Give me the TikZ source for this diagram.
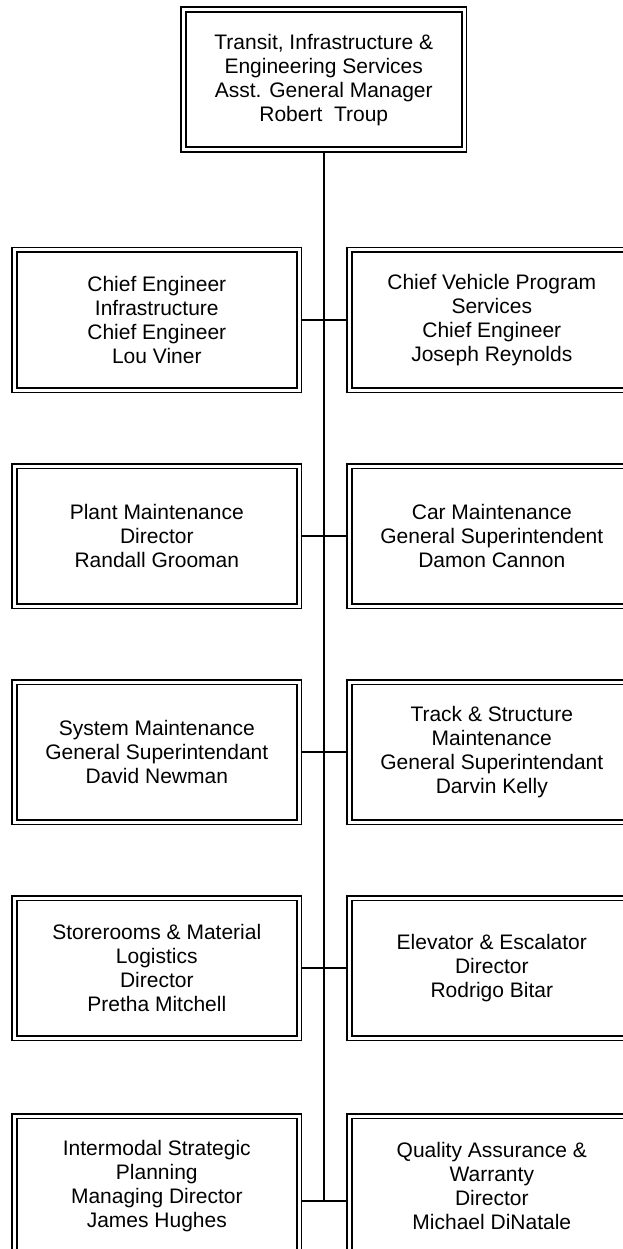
\documentclass[tikz,border=0pt]{standalone}
\usepackage{fontspec}
\setmainfont{Liberation Sans}
\usetikzlibrary{backgrounds}

\begin{document}
\begin{tikzpicture}[x=1pt,y=-1pt,
  orgbox/.style={draw=black, double=white, line width=1.6pt, double distance=3pt,
    fill=white, minimum width=284.5pt, minimum height=140pt, align=center,
    inner sep=0pt, font=\fontsize{21}{24}\selectfont},
  link/.style={draw=black, line width=1.5pt}]
  \useasboundingbox (0,0) rectangle (623,1249);
  \clip (0,0) rectangle (623,1249);

  % head of the division
  \node[orgbox, minimum width=280.5pt] (top) at (323.75,79.6)
    {Transit, Infrastructure \&\\Engineering Services\\Asst. General Manager\\Robert~ Troup};

  % left column
  \node[orgbox] (l1) at (156.8,320)
    {Chief Engineer\\Infrastructure\\Chief Engineer\\Lou Viner};
  \node[orgbox] (l2) at (156.8,536)
    {Plant Maintenance\\Director\\Randall Grooman};
  \node[orgbox] (l3) at (156.8,752)
    {System Maintenance\\General Superintendant\\David Newman};
  \node[orgbox] (l4) at (156.8,968)
    {Storerooms \& Material\\Logistics\\Director\\Pretha Mitchell};
  \node[orgbox] (l5) at (156.8,1186)
    {Intermodal Strategic\\Planning\\Managing Director\\James Hughes};

  % right column
  \node[orgbox] (r1) at (491.8,320)
    {Chief Vehicle Program\\Services\\Chief Engineer\\Joseph Reynolds};
  \node[orgbox] (r2) at (491.8,536)
    {Car Maintenance\\General Superintendent\\Damon Cannon};
  \node[orgbox] (r3) at (491.8,752)
    {Track \& Structure\\Maintenance\\General Superintendant\\Darvin Kelly};
  \node[orgbox] (r4) at (491.8,968)
    {Elevator \& Escalator\\Director\\Rodrigo Bitar};
  \node[orgbox] (r5) at (491.8,1186)
    {Quality Assurance \&\\Warranty\\Director\\Michael DiNatale};

  % reporting lines (the last row joins lower down its boxes)
  \begin{scope}[on background layer]
    \coordinate (j5l) at ([yshift=-15pt]l5.east);
    \coordinate (j5r) at ([yshift=-15pt]r5.west);
    \draw[link] (top.south) -- (top.south |- j5l);
    \foreach \i in {1,...,4} {
      \draw[link] (l\i.east) -- (r\i.west);
    }
    \draw[link] (j5l) -- (j5r);
  \end{scope}
\end{tikzpicture}
\end{document}
